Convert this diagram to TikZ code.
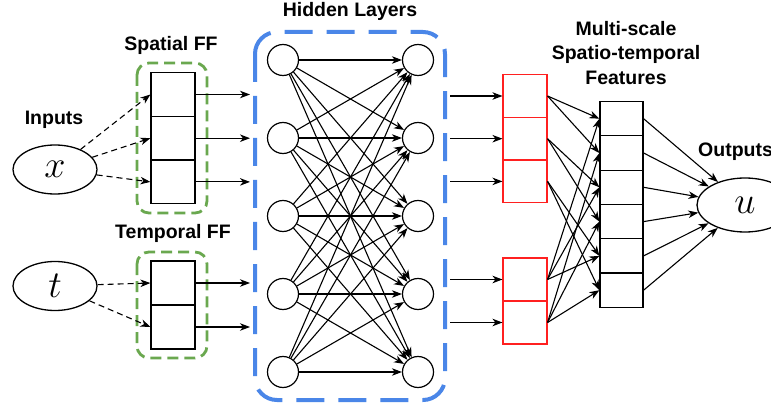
\RequirePackage{fix-cm}
\documentclass[tikz,border=0pt]{standalone}
\usepackage[no-math]{fontspec}
\setmainfont{Liberation Sans}
\usetikzlibrary{arrows.meta,shapes.geometric}
\definecolor{ffgreen}{HTML}{6AA84F}
\definecolor{hidblue}{HTML}{4A86E8}
\definecolor{featred}{HTML}{FF2020}
\begin{document}
\begin{tikzpicture}[x=1pt,y=-1pt,
  lbl/.style={font=\fontsize{19.5}{24.5}\selectfont\bfseries, inner sep=0pt, align=center},
  var/.style={ellipse, draw, line width=1.3pt, minimum width=84pt, minimum height=49pt,
    inner sep=0pt, font=\fontsize{38}{38}\selectfont},
  cell/.style={draw, line width=1.2pt, minimum width=44pt, inner sep=0pt},
  rcell/.style={draw=featred, line width=1.1pt, minimum width=44pt, inner sep=0pt},
  neuron/.style={circle, draw, line width=1.2pt, minimum size=31pt, inner sep=0pt},
  conn/.style={line width=1.1pt, -{Stealth[length=10pt,width=7.5pt,inset=3pt]}},
  dconn/.style={conn, dash pattern=on 6pt off 4pt},
  ffbox/.style={draw=ffgreen, line width=2.8pt, dash pattern=on 11pt off 6pt, rounded corners=12pt},
  hidbox/.style={draw=hidblue, line width=4pt, dash pattern=on 28pt off 14pt, rounded corners=22pt},
]
\useasboundingbox (0,0) rectangle (771,406);

% group frames
\draw[ffbox] (137,63) rectangle (207,213);
\draw[ffbox] (137,252) rectangle (207,358);
\draw[hidbox] (255,32) rectangle (445,400);

% labels
\node[lbl] (linputs) at (54,120) {Inputs};
\node[lbl] (lspatial) at (171,45) {Spatial FF};
\node[lbl] (ltemporal) at (173,233) {Temporal FF};
\node[lbl] (lhidden) at (350,11) {Hidden Layers};
\node[lbl] (lmulti) at (626,53) {Multi-scale\\Spatio-temporal\\Features};
\node[lbl, anchor=west] (loutputs) at (698,152) {Outputs};

% input and output variables
\node[var] (x) at (55,169.5) {$x$};
\node[var] (t) at (55,286) {$t$};
\node[var, minimum width=96pt, minimum height=54pt] (u) at (745,205) {$u$};

% spatial Fourier features
\foreach \i/\y in {1/94.5, 2/138.2, 3/181.9}
  \node[cell, minimum height=43.7pt] (sf\i) at (173,\y) {};
% temporal Fourier features
\foreach \i/\y in {1/283, 2/327}
  \node[cell, minimum height=44pt] (tf\i) at (173,\y) {};

% inputs to Fourier features
\foreach \i in {1,2,3} \draw[dconn] (x) -- (sf\i.west);
\foreach \i in {1,2} \draw[dconn] (t) -- (tf\i.west);

% Fourier features into the hidden layers
\foreach \i in {1,2,3} {
  \coordinate (sfo\i) at (250,0 |- sf\i.east);
  \draw[conn] (sf\i.east) -- (sfo\i);
}
\foreach \i in {1,2} {
  \coordinate (tfo\i) at (250,0 |- tf\i.east);
  \draw[conn] (tf\i.east) -- (tfo\i);
}

% hidden neurons
\foreach \i in {1,...,5} {
  \node[neuron] (hl\i) at (283,{60+78*(\i-1)}) {};
  \node[neuron] (hr\i) at (418,{60+78*(\i-1)}) {};
}
\foreach \i in {1,...,5}
  \foreach \j in {1,...,5}
    \draw[conn] (hl\i) -- (hr\j);

% spatial and temporal hidden features
\foreach \i/\y in {1/96, 2/138.7, 3/181.4}
  \node[rcell, minimum height=42.7pt] (rs\i) at (525,\y) {};
\foreach \i/\y in {1/279.5, 2/322.5}
  \node[rcell, minimum height=43pt] (rt\i) at (525,\y) {};

\foreach \i in {1,2,3} {
  \coordinate (rsi\i) at (450,0 |- rs\i.west);
  \draw[conn] (rsi\i) -- (rs\i.west);
}
\foreach \i in {1,2} {
  \coordinate (rti\i) at (450,0 |- rt\i.west);
  \draw[conn] (rti\i) -- (rt\i.west);
}

% multi-scale spatio-temporal features
\foreach \i in {1,...,6}
  \node[cell, minimum width=43pt, minimum height=34.3pt] (m\i) at (621.5,{118.7+34.3*(\i-1)}) {};

% pairwise products: spatial i with temporal j
\foreach \i in {1,2,3}
  \foreach \j in {1,2} {
    \pgfmathtruncatemacro{\k}{2*(\i-1)+\j}
    \draw[conn] (rs\i.east) -- (m\k.west);
    \draw[conn] (rt\j.east) -- (m\k.west);
  }

% features to output
\foreach \i in {1,...,6}
  \draw[conn] (m\i.east) -- (u);
\end{tikzpicture}
\end{document}
